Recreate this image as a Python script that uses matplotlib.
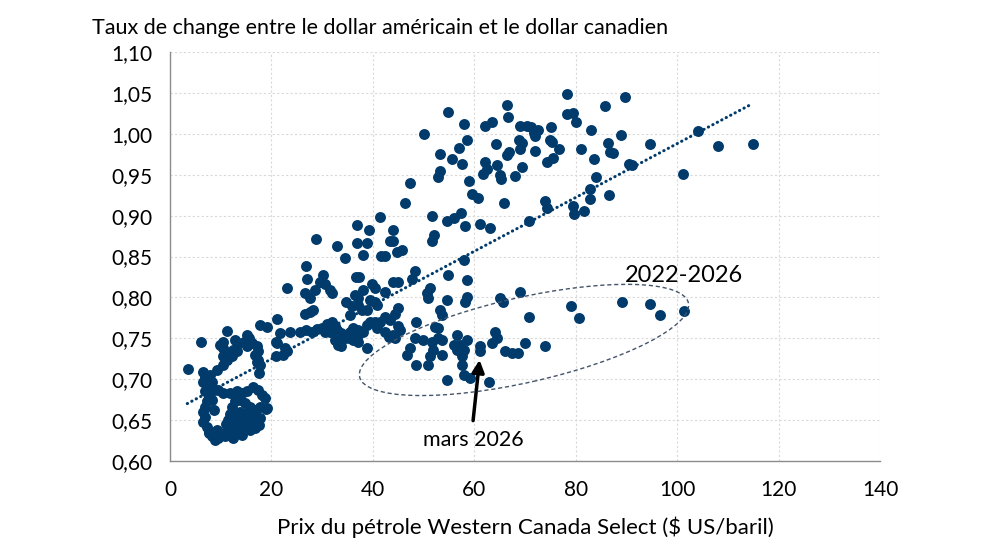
import numpy as np
import matplotlib
matplotlib.use("Agg")
import matplotlib.pyplot as plt
from matplotlib.patches import Ellipse
from matplotlib.transforms import ScaledTranslation

plt.rcParams['font.family'] = ['Lato', 'DejaVu Sans']

# (prix WCS $US/baril, taux de change USD/CAD), by zone
pts_bas_gauche = [
    (6.05, 0.746), (3.6, 0.713), (11.2, 0.759),
    (10.5, 0.746), (10.5, 0.738), (10.5, 0.728), (9.9, 0.742), (11.5, 0.732), (12.5, 0.736),
    (13.5, 0.744), (14.5, 0.746), (15.5, 0.750), (16.1, 0.744), (17.1, 0.740), (17.4, 0.734),
    (16.8, 0.730), (17.4, 0.724), (17.8, 0.717), (15.1, 0.740), (13.2, 0.734), (12.2, 0.728),
    (11.2, 0.724), (10.5, 0.717), (15.1, 0.754), (12.9, 0.748),
    (17.8, 0.766), (19.1, 0.764), (21.1, 0.774), (20.9, 0.728), (20.9, 0.746),
    (6.6, 0.709), (6.9, 0.703), (6.6, 0.697), (7.2, 0.691), (6.9, 0.685), (7.6, 0.679),
    (7.2, 0.673), (6.9, 0.666), (6.6, 0.660), (6.9, 0.654), (6.6, 0.648), (7.2, 0.642),
    (8.2, 0.697), (8.6, 0.687), (8.2, 0.675), (8.6, 0.662), (7.9, 0.705), (9.2, 0.711),
    (9.5, 0.687), (10.5, 0.683), (17.6, 0.707),
    (7.6, 0.634), (8.2, 0.630), (9.2, 0.638), (9.5, 0.628), (10.9, 0.630), (11.5, 0.632),
    (12.5, 0.628), (7.6, 0.636), (8.9, 0.626),
    (11.8, 0.683), (13.2, 0.685), (14.1, 0.683), (15.1, 0.685), (16.4, 0.691), (17.4, 0.687),
    (18.1, 0.681), (18.8, 0.677), (19.1, 0.665), (17.8, 0.666), (16.8, 0.662), (15.8, 0.666),
    (14.8, 0.671), (13.8, 0.675), (12.8, 0.673), (12.2, 0.666), (11.8, 0.658), (12.8, 0.658),
    (13.8, 0.660), (14.8, 0.658), (15.8, 0.654), (16.8, 0.654), (17.4, 0.650), (16.4, 0.646),
    (15.5, 0.646), (14.5, 0.648), (13.5, 0.650), (12.5, 0.648), (11.8, 0.642), (12.8, 0.640),
    (13.8, 0.642), (14.8, 0.640), (15.8, 0.638), (13.2, 0.634), (14.1, 0.632), (12.2, 0.634),
    (11.2, 0.638), (17.7, 0.653),
    (13.5, 0.655), (14.5, 0.652), (15.5, 0.658), (13.0, 0.645), (16.0, 0.645), (14.0, 0.637),
    (15.0, 0.643), (16.8, 0.640), (17.5, 0.644), (11.0, 0.645), (11.5, 0.650), (12.0, 0.653),
    (17.1, 0.721), (19.0, 0.663),
]

pts_milieu = [
    (26.8, 0.838), (23.1, 0.812), (27.1, 0.822), (30.2, 0.827), (29.6, 0.819), (30.5, 0.817),
    (31.5, 0.809), (31.9, 0.805), (28.6, 0.809), (26.6, 0.805), (27.6, 0.799), (36.7, 0.825),
    (37.3, 0.825), (38.1, 0.809), (39.8, 0.817), (40.4, 0.811), (42.4, 0.807), (44.0, 0.819),
    (45.0, 0.819), (36.5, 0.803), (37.1, 0.799), (34.7, 0.795), (35.8, 0.789), (37.1, 0.791),
    (37.8, 0.785), (38.8, 0.785), (39.4, 0.797), (40.4, 0.795), (40.8, 0.791), (35.5, 0.778),
    (26.6, 0.780), (27.6, 0.782), (28.1, 0.785), (42.4, 0.776), (43.4, 0.772), (44.4, 0.780),
    (45.0, 0.787),
    (21.7, 0.757), (23.6, 0.758), (25.6, 0.758), (26.9, 0.760), (27.9, 0.758), (28.9, 0.761),
    (29.9, 0.762), (30.9, 0.768), (31.9, 0.770), (32.5, 0.765), (30.6, 0.758), (31.5, 0.758),
    (32.9, 0.760), (33.8, 0.756), (34.8, 0.754), (35.5, 0.758), (36.1, 0.762), (37.1, 0.760),
    (38.1, 0.758), (36.8, 0.752), (36.1, 0.748), (37.1, 0.746), (35.2, 0.750), (34.5, 0.750),
    (38.8, 0.766), (39.4, 0.770), (40.4, 0.770), (41.4, 0.770), (40.8, 0.762), (42.4, 0.758),
    (43.1, 0.752), (44.0, 0.754), (45.0, 0.765), (44.4, 0.750),
    (21.0, 0.744), (22.7, 0.738), (22.3, 0.730), (23.0, 0.734), (32.5, 0.748), (33.2, 0.742),
    (33.8, 0.740), (38.8, 0.738),
    (41.5, 0.898), (36.9, 0.888), (39.2, 0.882), (44.0, 0.882), (28.8, 0.872), (32.9, 0.863),
    (36.8, 0.866), (38.9, 0.866), (43.3, 0.869), (43.9, 0.869), (44.7, 0.856), (45.7, 0.858),
    (38.1, 0.852), (34.5, 0.848), (41.7, 0.851), (42.4, 0.851), (58.0, 0.846),
]

pts_centre = [
    (48.3, 0.832), (47.7, 0.823), (54.9, 0.827), (58.5, 0.821), (51.3, 0.811), (50.6, 0.805),
    (50.9, 0.799), (54.6, 0.797), (58.5, 0.801), (58.2, 0.795), (65.1, 0.799), (65.7, 0.795),
    (69.0, 0.807), (53.2, 0.785), (53.6, 0.779), (45.4, 0.760), (48.6, 0.770), (52.3, 0.764),
    (52.9, 0.762), (48.3, 0.750), (49.9, 0.748), (51.6, 0.746), (52.9, 0.750), (53.6, 0.748),
    (47.3, 0.738), (46.7, 0.730), (51.9, 0.736), (51.3, 0.728), (53.6, 0.730), (48.6, 0.717),
    (50.9, 0.717), (56.5, 0.754), (55.9, 0.742), (57.2, 0.742), (57.9, 0.736), (56.5, 0.736),
    (57.5, 0.728), (57.5, 0.717), (58.5, 0.748), (61.1, 0.740), (61.1, 0.734), (64.1, 0.758),
    (64.4, 0.750), (63.4, 0.744), (66.1, 0.734), (67.4, 0.732), (68.7, 0.732), (54.6, 0.699),
    (57.9, 0.705), (59.2, 0.701), (62.8, 0.697), (70.7, 0.776), (74.0, 0.741), (70.0, 0.744),
]

pts_haut = [
    (50.1, 1.000), (54.8, 1.027), (57.9, 1.012), (58.6, 0.992), (56.9, 0.983), (53.2, 0.975),
    (55.6, 0.969), (57.6, 0.963), (53.3, 0.955), (52.8, 0.947), (47.4, 0.940), (46.4, 0.915),
    (59.0, 0.942), (59.5, 0.927), (60.7, 0.921), (51.6, 0.900), (54.6, 0.893), (55.9, 0.897),
    (57.4, 0.903), (58.1, 0.887), (52.0, 0.876), (51.6, 0.869), (61.2, 0.890), (63.0, 0.885),
    (65.8, 0.916), (70.7, 0.894), (62.2, 1.009), (63.5, 1.014), (66.5, 1.035), (66.6, 1.020),
    (64.3, 0.988), (62.2, 0.965), (62.5, 0.957), (61.8, 0.951), (64.5, 0.962), (66.5, 0.974),
    (66.8, 0.978), (65.1, 0.950), (65.3, 0.945), (68.0, 0.948), (69.4, 0.959), (69.0, 1.009),
    (70.3, 1.009), (71.2, 1.008), (72.5, 1.005), (71.7, 1.001), (72.0, 0.997), (68.8, 0.992),
    (69.4, 0.989), (69.0, 0.982), (71.9, 0.979), (75.1, 1.008), (75.0, 0.993), (75.3, 0.990),
    (76.7, 0.982), (74.4, 0.966), (75.5, 0.971), (74.0, 0.918), (74.4, 0.909), (78.3, 1.049),
    (78.3, 1.024), (79.5, 1.026), (80.0, 1.015), (83.1, 1.005), (81.1, 0.982), (83.7, 0.969),
    (83.9, 0.947), (82.8, 0.933), (82.8, 0.920), (79.5, 0.912), (79.6, 0.902), (81.6, 0.906),
    (85.8, 1.034), (89.7, 1.045), (88.9, 0.999), (86.4, 0.989), (86.8, 0.978), (87.4, 0.977),
    (94.7, 0.988), (90.5, 0.963), (91.0, 0.962), (86.6, 0.925), (104.2, 1.003), (108.1, 0.985),
    (114.9, 0.988), (101.1, 0.951),
]

pts_2022_2026 = [
    (79.1, 0.789), (80.6, 0.775), (89.1, 0.794), (94.7, 0.792), (96.7, 0.779), (101.3, 0.783),
]

# Excel linear trend line: slope, intercept
tendance_pente = 0.00329
tendance_origine = 0.659

xticks = [0, 20, 40, 60, 80, 100, 120, 140]
yticks = [0.60, 0.65, 0.70, 0.75, 0.80, 0.85, 0.90, 0.95, 1.00, 1.05, 1.10]
ytick_labels = ['0,60', '0,65', '0,70', '0,75', '0,80', '0,85', '0,90', '0,95', '1,00', '1,05', '1,10']

data = np.array(pts_bas_gauche + pts_milieu + pts_centre + pts_haut + pts_2022_2026)
prix = data[:, 0]
taux = data[:, 1]

bleu = '#003b6b'

fig = plt.figure(figsize=(9.92, 5.58), dpi=100)
ax = fig.add_axes([0.1714, 0.1738, 0.7157, 0.7330])

ax.scatter(prix, taux, s=62, color=bleu, zorder=3, linewidths=0)

xs = np.array([3.4, prix.max()])
ax.plot(xs, tendance_pente * xs + tendance_origine, color=bleu, lw=2.2,
        linestyle=(0, (0.1, 1.55)), dash_capstyle='round', zorder=2)

ax.set_xlim(0, 140)
ax.set_ylim(0.60, 1.10)
ax.set_xticks(xticks)
ax.set_yticks(yticks)
ax.set_yticklabels(ytick_labels)
ax.tick_params(length=0, labelsize=15, colors='#000000')
ax.tick_params(axis='x', pad=14)
ax.tick_params(axis='y', pad=12.5)
ax.grid(True, color='#d9d9d9', linestyle=(0, (2, 2)), lw=0.8, zorder=0)
for s in ['top', 'right']:
    ax.spines[s].set_visible(False)
for s in ['left', 'bottom']:
    ax.spines[s].set_color('#8c8c8c')
    ax.spines[s].set_linewidth(1.0)

# ellipse around 2022-2026
tr = fig.dpi_scale_trans + ScaledTranslation(69.8, 0.748, ax.transData)
ell = Ellipse((0, 0), 3.37, 0.85, angle=12.7, fill=False, edgecolor='#44546a',
              lw=1.0, linestyle=(0, (3, 2)), transform=tr, zorder=4)
ax.add_patch(ell)
ax.text(101.4, 0.827, '2022-2026', fontsize=17, ha='center', va='center')

ax.annotate('', xy=(61.1, 0.727), xytext=(59.7, 0.646),
            arrowprops=dict(arrowstyle='-|>', lw=2.5, color='black', mutation_scale=18))
ax.text(59.8, 0.626, 'mars 2026', fontsize=15.5, ha='center', va='center')

fig.text(92 / 992, 1 - 28 / 558, 'Taux de change entre le dollar américain et le dollar canadien',
         fontsize=15.5, ha='left', va='center')
fig.text(525 / 992, 1 - 527 / 558, 'Prix du pétrole Western Canada Select ($ US/baril)',
         fontsize=16, ha='center', va='center')

fig.savefig('out.png', dpi=100)
